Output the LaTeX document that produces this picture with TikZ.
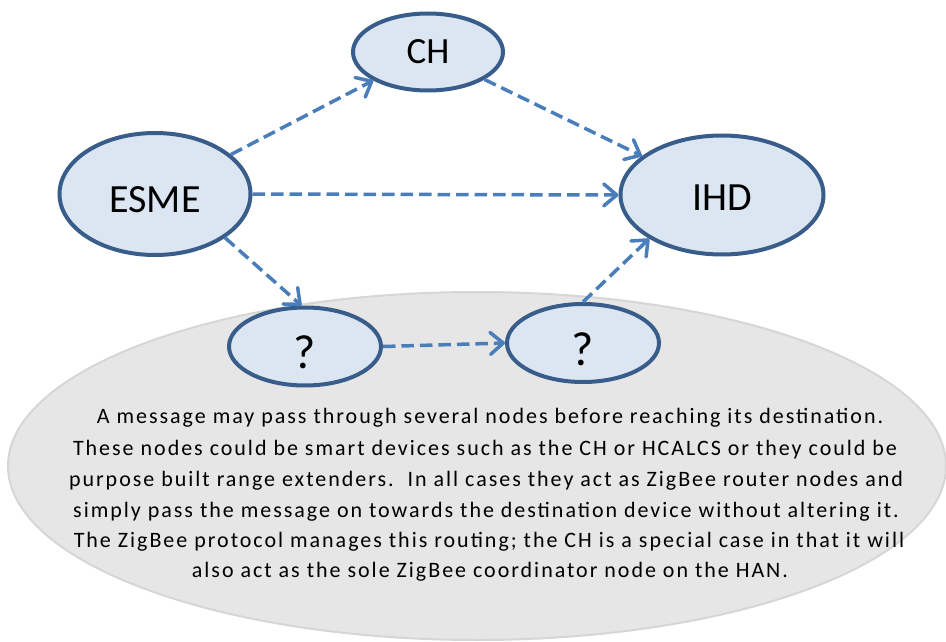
\documentclass[tikz,border=0pt]{standalone}
\usepackage{fontspec}
\setmainfont{Carlito}
\newfontfamily\spacedfont[LetterSpace=9]{Carlito}
\usetikzlibrary{shapes.geometric,arrows.meta}
\definecolor{nodefill}{HTML}{DCE6F2}
\definecolor{nodeline}{HTML}{385D8A}
\definecolor{arrowblue}{HTML}{4A7EBB}
\definecolor{hanfill}{HTML}{E6E6E6}
\definecolor{hanline}{HTML}{D6D6D6}
\tikzset{
  dev/.style={ellipse, draw=nodeline, fill=nodefill, line width=4pt, inner sep=0pt, font=\fontsize{40}{40}\selectfont},
  flow/.style={draw=arrowblue, line width=3.5pt, dash pattern=on 12.5pt off 6pt, -{Straight Barb[length=13pt,width=22pt,round]}},
  bodyline/.style={anchor=base, inner sep=0pt, font=\spacedfont\fontsize{22}{26}\selectfont}
}
\begin{document}
\begin{tikzpicture}[x=1pt,y=-1pt]
\useasboundingbox (0,0) rectangle (946,642);
\node[ellipse, draw=hanline, fill=hanfill, line width=2pt, minimum width=938pt, minimum height=348pt, inner sep=0pt] (han) at (477,466) {};
\node[dev, minimum width=150pt, minimum height=77pt, font=\fontsize{37}{37}\selectfont] (ch) at (428,52) {CH};
\node[dev, minimum width=191pt, minimum height=122pt, text height=37pt, text depth=0pt] (esme) at (155,194) {ESME};
\node[dev, minimum width=203pt, minimum height=119pt, text height=30pt, text depth=0pt] (ihd) at (722,195) {IHD};
\node[dev, minimum width=152pt, minimum height=78pt, font=\fontsize{48}{48}\selectfont, text height=44pt, text depth=0pt] (q1) at (305,346.5) {?};
\node[dev, minimum width=152pt, minimum height=78pt, font=\fontsize{48}{48}\selectfont, text height=44pt, text depth=0pt] (q2) at (583,343) {?};
\draw[flow] (esme) -- (ch);
\draw[flow] (ch) -- (ihd);
\draw[flow] (esme.east) -- (ihd.west);
\draw[flow] (esme.-32) -- (q1.95);
\draw[flow] (q1.east) -- (q2.west);
\draw[flow] (q2.north) -- (ihd.-149);
\node[bodyline] (t1) at (490,423) {A message may pass through several nodes before reaching its destination.};
\node[bodyline] (t2) at (485,455) {These nodes could be smart devices such as the CH or HCALCS or they could be};
\node[bodyline] (t3) at (486,486) {purpose built range extenders.\ \ In all cases they act as ZigBee router nodes and};
\node[bodyline] (t4) at (486,517) {simply pass the message on towards the destination device without altering it.};
\node[bodyline] (t5) at (489,547) {The ZigBee protocol manages this routing; the CH is a special case in that it will};
\node[bodyline] (t6) at (490,577) {also act as the sole ZigBee coordinator node on the HAN.};
\end{tikzpicture}
\end{document}
